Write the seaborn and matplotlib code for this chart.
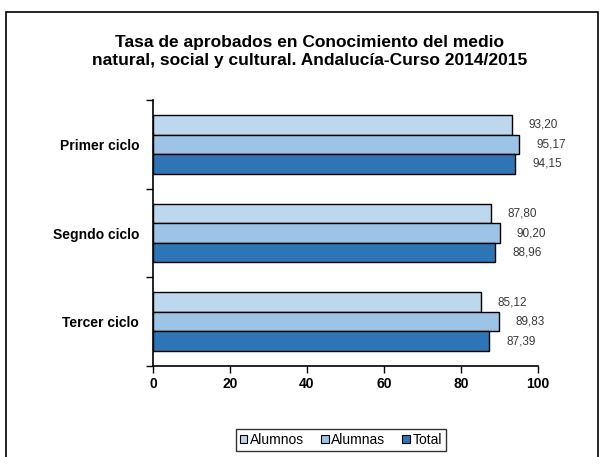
import numpy as np
import matplotlib.pyplot as plt
import pandas as pd
import seaborn as sns
from matplotlib.patches import Rectangle

# --- Data ---
ciclos = ["Primer ciclo", "Segndo ciclo", "Tercer ciclo"]
series = ["Alumnos", "Alumnas", "Total"]
alumnos = [93.20, 87.80, 85.12]
alumnas = [95.17, 90.20, 89.83]
total = [94.15, 88.96, 87.39]
xticks = [0, 20, 40, 60, 80, 100]

colors = ["#BDD7EE", "#9DC3E6", "#2E75B6"]

df = pd.DataFrame({
    "ciclo": ciclos * 3,
    "serie": [s for s in series for _ in ciclos],
    "valor": alumnos + alumnas + total,
})

sns.set_style("white")
plt.rcParams['font.family'] = ['Liberation Sans', 'DejaVu Sans']
plt.rcParams['text.color'] = 'black'
plt.rcParams['xtick.color'] = 'black'
plt.rcParams['ytick.color'] = 'black'

fig = plt.figure(figsize=(5.99, 4.57), dpi=100)
ax = fig.add_axes([0.2554, 0.199, 0.6427, 0.582])

sns.barplot(data=df, x="valor", y="ciclo", hue="serie", order=ciclos,
            hue_order=series, palette=colors, saturation=1, orient="h", width=0.66,
            edgecolor="black", linewidth=1.0, ax=ax)

# value labels with decimal comma
for cont in ax.containers:
    ax.bar_label(cont, labels=[f"{v:.2f}".replace(".", ",") for v in cont.datavalues],
                 padding=12, fontsize=8.5, color="#3a3a3a")

ax.set_xlim(0, 100)
ax.set_ylim(2.5, -0.5)
ax.set_xticks(xticks)
ax.set_xticklabels([str(t) for t in xticks], fontsize=10, fontweight="bold")
ax.set_yticks([0, 1, 2])
ax.set_yticklabels(ciclos, fontsize=10, fontweight="bold")
ax.set_xlabel("")
ax.set_ylabel("")

# category separator ticks on the y axis
ax.set_yticks([-0.5, 0.5, 1.5, 2.5], minor=True)
ax.tick_params(axis="y", which="major", left=True, length=0, pad=10)
ax.tick_params(axis="y", which="minor", left=True, length=5, width=1, direction="out", color="black")
ax.tick_params(axis="x", bottom=True, length=5, width=1, direction="out", color="black", pad=3)

for side in ["top", "right"]:
    ax.spines[side].set_visible(False)
for side in ["left", "bottom"]:
    ax.spines[side].set_color("black")
    ax.spines[side].set_linewidth(1.2)

fig.text(0.517, 0.887, "Tasa de aprobados en Conocimiento del medio\nnatural, social y cultural. Andalucía-Curso 2014/2015",
         ha="center", va="center", fontsize=12.5, fontweight="bold", linespacing=1.2)

leg = ax.legend(loc="center", bbox_to_anchor=(0.488, -0.278), ncol=3, fontsize=10,
                frameon=True, fancybox=False, handlelength=0.55, handleheight=0.55,
                handletextpad=0.2, columnspacing=1.2, borderpad=0.3)
leg.get_frame().set_edgecolor("black")
leg.get_frame().set_linewidth(1.0)
for h in leg.legend_handles:
    h.set_edgecolor("black")
    h.set_linewidth(0.8)

# outer border
fig.patches.append(Rectangle((0.010, -0.01), 0.988, 0.984, transform=fig.transFigure,
                             fill=False, edgecolor="black", linewidth=1.2))

fig.savefig("out.png", dpi=100)
